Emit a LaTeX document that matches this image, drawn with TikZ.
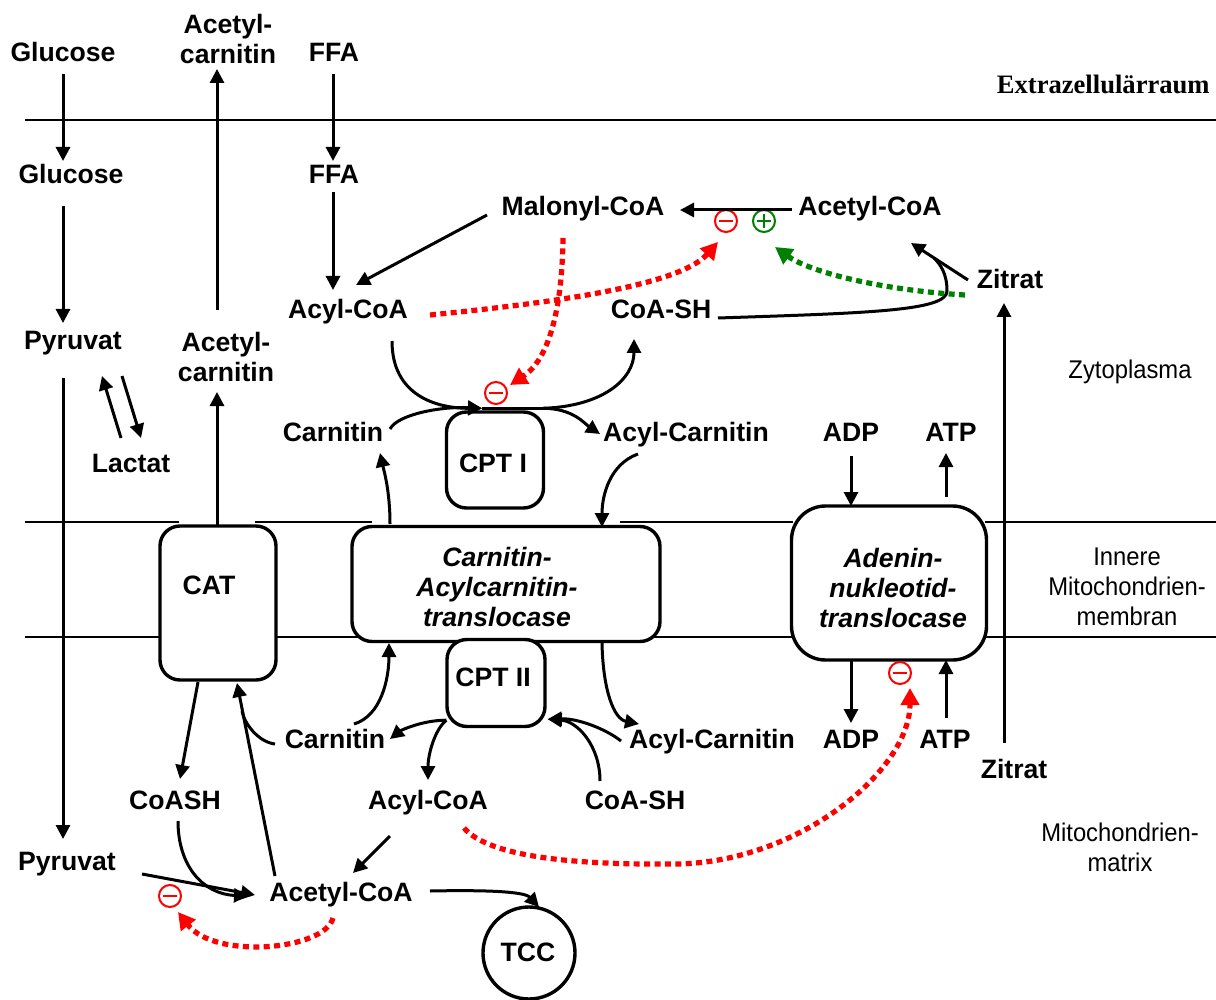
\documentclass[tikz,border=0pt]{standalone}
\usepackage{fontspec}
\setmainfont{Liberation Sans}
\newfontfamily\zonefont[FakeStretch=0.93]{Liberation Sans}
\newfontfamily\serifbold{Liberation Serif}
\usetikzlibrary{arrows.meta,calc}
\definecolor{inhred}{RGB}{255,0,0}
\definecolor{actgreen}{RGB}{0,128,0}
\begin{document}
\begin{tikzpicture}[x=0.5pt,y=-0.5pt,
  lbl/.style={font=\fontsize{13.3}{15}\selectfont\bfseries, inner sep=2pt, align=center},
  one/.style={lbl, text height=9.4pt, text depth=2.6pt, yshift=-1.5pt},
  zone/.style={font=\zonefont\fontsize{12.8}{15}\selectfont, align=center, inner sep=0pt},
  box/.style={draw, line width=1.7pt, rounded corners=10pt, fill=white, inner sep=0pt},
  arr/.style={line width=1.5pt, -{Triangle[length=7pt,width=7pt]}},
  ln/.style={line width=1.5pt},
  mem/.style={line width=1pt},
  rdot/.style={draw=inhred, line width=2.6pt, dash pattern=on 3pt off 2.2pt, -{Triangle[length=8.5pt,width=9pt]}},
  gdot/.style={draw=actgreen, line width=2.6pt, dash pattern=on 3pt off 2.2pt, -{Triangle[length=8.5pt,width=9pt]}},
  inh/.style={circle, draw=inhred, line width=1pt, minimum size=11pt, inner sep=0pt,
    path picture={\draw[inhred, line width=1.4pt] ($(path picture bounding box.west)+(4,0)$) -- ($(path picture bounding box.east)+(-4,0)$);}},
  act/.style={circle, draw=actgreen, line width=1pt, minimum size=11pt, inner sep=0pt,
    path picture={\draw[actgreen, line width=1.4pt] ($(path picture bounding box.west)+(4,0)$) -- ($(path picture bounding box.east)+(-4,0)$)
      ($(path picture bounding box.north)+(0,4)$) -- ($(path picture bounding box.south)+(0,-4)$);}}]
\useasboundingbox (0,0) rectangle (1216,1000);

% membranes
\draw[mem] (25,120) -- (1216,120);
\draw[mem] (25,522) -- (179,522) (255,522) -- (372,522) (620,522) -- (793,522) (985,522) -- (1216,522);
\draw[mem] (25,637) -- (1216,637);

% boxes
\node[box, minimum width=58pt, minimum height=77pt] (cat) at (218,603) {};
\node[box, minimum width=154pt, minimum height=57.5pt] (trans) at (506,584) {};
\node[box, minimum width=48.5pt, minimum height=48pt] (cpt1) at (495,460) {};
\node[box, minimum width=49pt, minimum height=43.5pt] (cpt2) at (496,683) {};
\node[box, rounded corners=17pt, minimum width=97.5pt, minimum height=77pt] (ant) at (889,583) {};
\node[box, circle, rounded corners=0pt, minimum size=46pt] (tcc) at (529,953) {};

\node[one] (cattxt) at (209,585) {CAT};
\node[lbl, font=\fontsize{13.3}{15}\selectfont\bfseries\itshape] (transtxt) at (497,587) {Carnitin-\\Acylcarnitin-\\translocase};
\node[one] (cpt1txt) at (493,463) {CPT I};
\node[one] (cpt2txt) at (493,677) {CPT II};
\node[lbl, font=\fontsize{13.3}{15}\selectfont\bfseries\itshape] (anttxt) at (893,588) {Adenin-\\nukleotid-\\translocase};
\node[one] (tcctxt) at (528,952) {TCC};

% labels
\node[one] (glu1) at (63,52) {Glucose};
\node[lbl] (acc1) at (228,39) {Acetyl-\\carnitin};
\node[one] (ffa1) at (334,52) {FFA};
\node[anchor=east, font=\serifbold\fontsize{13.3}{15}\selectfont\bfseries, inner sep=0pt] (extra) at (1210,84) {Extrazellulärraum};
\node[one] (glu2) at (71,174) {Glucose};
\node[one] (ffa2) at (334,174) {FFA};
\node[one] (mal) at (583,206) {Malonyl-CoA};
\node[one] (acoa1) at (870,206) {Acetyl-CoA};
\node[one] (zit1) at (1010,279) {Zitrat};
\node[one] (acyl1) at (348,309) {Acyl-CoA};
\node[one] (coash1) at (661,309) {CoA-SH};
\node[one] (pyr1) at (73,340) {Pyruvat};
\node[lbl] (acc2) at (226,357) {Acetyl-\\carnitin};
\node[zone] (zyto) at (1130,372) {Zytoplasma};
\node[one] (carn1) at (333,432) {Carnitin};
\node[one] (acar1) at (686,432) {Acyl-Carnitin};
\node[one] (adp1) at (851,432) {ADP};
\node[one] (atp1) at (951,432) {ATP};
\node[one] (lac) at (131,463) {Lactat};
\node[zone] (innere) at (1127,587) {Innere\\Mitochondrien-\\membran};
\node[one] (carn2) at (335,739) {Carnitin};
\node[one] (acar2) at (712,739) {Acyl-Carnitin};
\node[one] (adp2) at (851,739) {ADP};
\node[one] (atp2) at (945,739) {ATP};
\node[one] (zit2) at (1014,769) {Zitrat};
\node[one] (coashb) at (175,800) {CoASH};
\node[one] (acyl2) at (428,800) {Acyl-CoA};
\node[one] (coash2) at (635,800) {CoA-SH};
\node[zone] (matrix) at (1120,847) {Mitochondrien-\\matrix};
\node[one] (pyr2) at (67,861) {Pyruvat};
\node[one] (acoa2) at (341,892) {Acetyl-CoA};

% inhibition / activation marks
\node[inh] (i1) at (726,221) {};
\node[act] (a1) at (764,221) {};
\node[inh] (i2) at (496,393) {};
\node[inh] (i3) at (900,673) {};
\node[inh] (i4) at (170,896) {};

% glucose / pyruvate column
\draw[arr] ($(glu1)+(0,19)$) -- ($(glu1)+(0,106)$);
\draw[arr] ($(glu2)+(-8,29)$) -- ($(glu2)+(-8,146)$);
\draw[arr] ($(pyr1)+(-10,35)$) -- ($(pyr2)+(-4,-25)$);
\draw[arr] ($(lac)+(-10,-28)$) -- ($(pyr1)+(29,33)$);
\draw[arr] ($(pyr1)+(49,33)$) -- ($(lac)+(10,-28)$);

% acetylcarnitin column
\draw[arr] ($(acc2)+(-9,-47)$) -- ($(acc1)+(-11,30)$);
\draw[arr] ($(cat)+(-1,-77)$) -- ($(acc2)+(-9,35)$);

% FFA column
\draw[arr] ($(ffa1)+(-1,19)$) -- ($(ffa1)+(-1,106)$);
\draw[arr] ($(ffa2)+(-1,15)$) -- ($(acyl1)+(-15,-22)$);
\draw[arr] ($(mal)+(-96,6)$) -- ($(acyl1)+(8,-27)$);

% top right
\draw[arr] ($(acoa1)+(-78,1)$) -- ($(mal)+(97,1)$);
\draw[arr] ($(zit1)+(-42,-2)$) -- ($(acoa1)+(41,34)$);
\draw[ln] ($(coash1)+(57,6)$) .. controls +(150,-5) and +(0,20) .. ($(zit1)+(-63,9)$)
  .. controls +(0,-18) and +(6,6) .. ($(zit1)+(-76,-24)$);
\draw[arr] ($(zit2)+(-10,-29)$) -- ($(zit1)+(-6,21)$);

% CPT I
\coordinate (cptin) at ($(cpt1.north)+(-13,-2)$);
\coordinate (cptout) at ($(cpt1.north)+(48,-2)$);
\draw[arr] ($(acyl1)+(44,29)$) .. controls +(0,55) and +(-45,0) .. (cptin);
\draw[arr] ($(carn1)+(57,-6)$) .. controls +(8,-15) and +(-40,-2) .. (cptin);
\draw[ln] (cptin) -- (cptout);
\draw[arr] (cptout) .. controls +(60,-2) and +(0,40) .. ($(coash1)+(-27,27)$);
\draw[arr] (cptout) .. controls +(30,0) and +(-15,-10) .. ($(acar1)+(-86,-1)$);
\draw[arr] ($(acar1)+(-48,19)$) .. controls +(-28,10) and +(0,-32) .. ($(trans)+(96,-57)$);
\draw[arr] ($(trans)+(-116,-60)$) .. controls +(0,-33) and +(4,18) .. ($(carn1)+(47,18)$);

% adenine nucleotide translocase
\draw[arr] ($(adp1)+(0,21)$) -- ($(ant)+(-38,-77)$);
\draw[arr] ($(ant)+(57,-86)$) -- ($(atp1)+(-5,18)$);
\draw[arr] ($(ant)+(-38,77)$) -- ($(adp2)+(0,-19)$);
\draw[arr] ($(atp2)+(1,-24)$) -- ($(ant)+(57,77)$);

% CPT II
\coordinate (c2l) at ($(cpt2.south west)+(1,-8)$);
\coordinate (c2r) at ($(cpt2.south east)+(1,-9)$);
\draw[arr] ($(carn2)+(19,-18)$) .. controls +(27,-8) and +(0,36) .. ($(trans)+(-117,59)$);
\draw[arr] ($(trans)+(96,59)$) .. controls +(1,48) and +(-25,-5) .. ($(acar2)+(-73,-18)$);
\draw[arr] (c2l) .. controls +(-25,0) and +(10,-8) .. ($(carn2)+(55,-3)$);
\draw[arr] (c2l) .. controls +(-12,10) and +(0,-25) .. ($(acyl2)+(0,-23)$);
\draw[arr] ($(acar2)+(-91,-1)$) .. controls +(-15,-12) and +(30,-1) .. (c2r);
\draw[arr] ($(coash2)+(-35,-22)$) .. controls +(0,-35) and +(30,2) .. (c2r);

% CAT side (matrix)
\draw[arr] ($(cat)+(-20,79)$) -- ($(coashb)+(5,-24)$);
\draw[arr] ($(acoa2)+(-66,-19)$) -- ($(cat)+(19,80)$);
\draw[ln] ($(carn2)+(-60,2)$) .. controls +(-17,-2) and +(2,12) .. ($(acoa2)+(-99,-184)$);
\draw[arr] ($(coashb)+(3,18)$) .. controls +(0,45) and +(-45,-2) .. ($(acoa2)+(-93,1)$);
\draw[arr] ($(pyr2)+(75,10)$) -- ($(acoa2)+(-86,0)$);
\draw[arr] ($(acyl2)+(-38,33)$) -- ($(acoa2)+(12,-22)$);
\draw[arr] ($(acoa2)+(89,-4)$) .. controls +(50,-1) and +(-15,-16) .. ($(tcc)+(10,-46)$);

% regulatory dotted arrows
\draw[rdot] ($(acyl1)+(82,3)$) .. controls (560,302) and (680,285) .. ($(mal)+(135,33)$);
\draw[rdot] ($(mal)+(-20,29)$) .. controls (562,320) and (545,362) .. ($(cpt1)+(15,-75)$);
\draw[gdot] ($(zit1)+(-45,13)$) .. controls (880,290) and (810,272) .. ($(acoa1)+(-95,38)$);
\draw[rdot] ($(acyl2)+(36,25)$) .. controls (490,858) and (580,865) .. (677,864)
  .. controls (800,862) and (910,770) .. ($(ant)+(21,105)$);
\draw[rdot] ($(acoa2)+(-8,23)$) .. controls (325,950) and (215,960) .. ($(acoa2)+(-163,17)$);
\end{tikzpicture}
\end{document}
